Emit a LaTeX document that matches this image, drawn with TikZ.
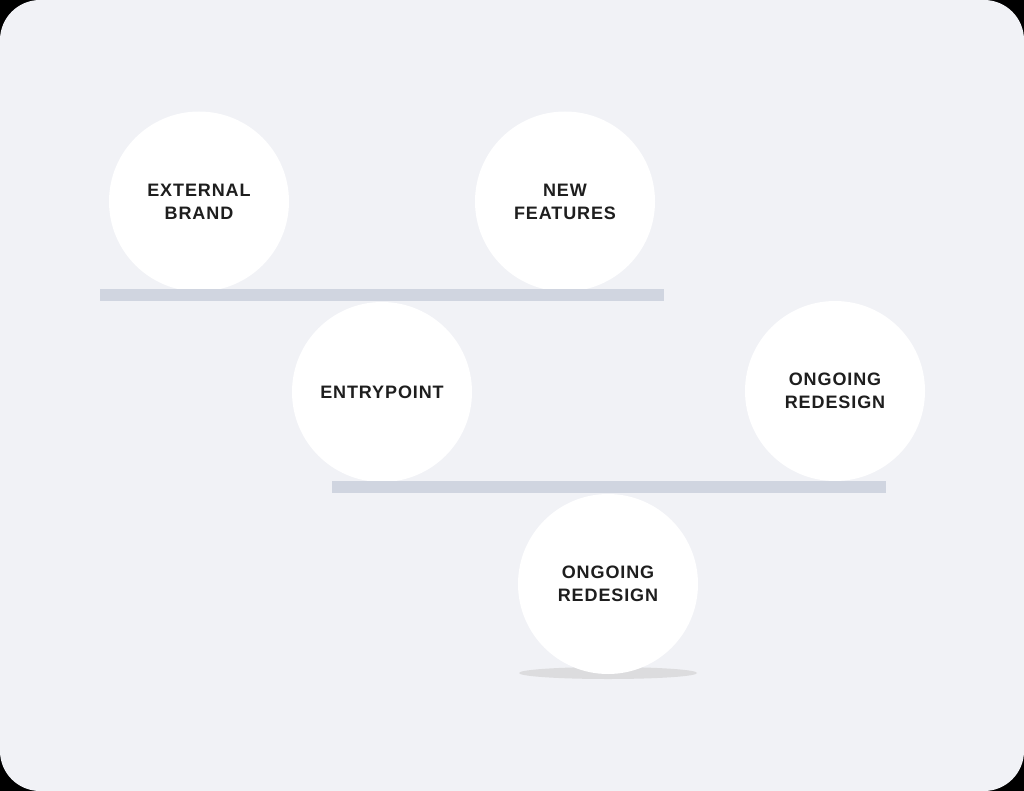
\documentclass[tikz,border=0pt]{standalone}
\usepackage{fontspec}
\setmainfont{Liberation Sans}
\newfontfamily\lblfont[LetterSpace=5]{Liberation Sans}
\definecolor{bgc}{HTML}{F1F2F6}
\definecolor{barc}{HTML}{D0D5E0}
\definecolor{txtc}{HTML}{1E1E1E}
\definecolor{shadc}{HTML}{DCDCDE}
\tikzset{
  ball/.style={circle, fill=white, minimum size=180pt, inner sep=0pt, align=center,
    font=\lblfont\fontsize{18}{23}\selectfont\bfseries, text=txtc},
  plank/.style={fill=barc, draw=none}
}
\begin{document}
\begin{tikzpicture}[x=1pt,y=-1pt]
\useasboundingbox (0,0) rectangle (1024,791);
\fill[black] (0,0) rectangle (1024,791);
\fill[bgc, rounded corners=40pt] (0,0) rectangle (1024,791);
% shadow
\fill[shadc] (608,673) ellipse [x radius=89, y radius=6];
% balls
\node[ball] (ext) at (199,201.5) {EXTERNAL\\BRAND};
\node[ball] (new) at (565,201.5) {NEW\\FEATURES};
\node[ball] (entry) at (382,392) {ENTRYPOINT};
\node[ball] (ongA) at (835,391) {ONGOING\\REDESIGN};
\node[ball] (ongB) at (608,584) {ONGOING\\REDESIGN};
% planks
\path[plank] (100,289) rectangle (664,301);
\path[plank] (332,481) rectangle (886,493);
\end{tikzpicture}
\end{document}
